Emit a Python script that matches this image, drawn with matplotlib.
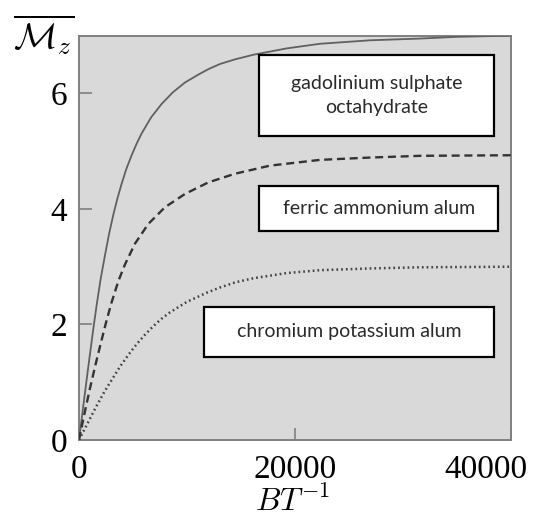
import matplotlib
matplotlib.use("Agg")
import matplotlib.pyplot as plt
import matplotlib.patches as patches
from matplotlib.transforms import ScaledTranslation

# magnetisation curves, values read per series (B/T, mean M_z)
gd_x = [0, 400, 830, 1345, 1640, 2000, 2409, 2800, 3180, 3560, 3956, 4400,
        4880, 5340, 5810, 6700, 7663, 8700, 9822, 11000, 11981, 13065,
        14455, 16152, 19246, 22330, 26964, 31590, 35000, 40000]
gd_y = [0, 0.59, 1.22, 1.95, 2.34, 2.78, 3.20, 3.58, 3.90, 4.18, 4.44, 4.70,
        4.93, 5.13, 5.31, 5.59, 5.82, 6.02, 6.19, 6.32, 6.42, 6.51,
        6.59, 6.67, 6.78, 6.86, 6.92, 6.95, 6.98, 7.0]

fe_x = [0, 500, 1000, 1500, 2000, 2500, 3000, 3645, 4262, 5189, 6421, 7968,
        9822, 11981, 14455, 17690, 22330, 26960, 31590, 40000]
fe_y = [0, 0.45, 0.88, 1.28, 1.66, 2.03, 2.37, 2.75, 3.04, 3.40, 3.74, 4.03,
        4.26, 4.46, 4.61, 4.75, 4.85, 4.89, 4.92, 4.93]

cr_x = [0, 800, 1600, 2400, 3200, 3800, 4600, 5346, 6100, 6885, 7650, 8432,
        9979, 11833, 13065, 14500, 16152, 19246, 22330, 26964, 31590, 40000]
cr_y = [0, 0.29, 0.58, 0.85, 1.09, 1.27, 1.48, 1.66, 1.82, 1.97, 2.10, 2.21,
        2.39, 2.55, 2.64, 2.73, 2.80, 2.89, 2.94, 2.97, 2.99, 3.0]

x_ticks = [0, 20000, 40000]
y_ticks = [0, 2, 4, 6]

plt.rcParams['mathtext.fontset'] = 'cm'

fig = plt.figure(figsize=(5.41, 5.21), dpi=100)
ax = fig.add_axes([0.146, 0.1555, 0.798, 0.776])
ax.set_facecolor('#d9d9d9')

ax.plot(gd_x, gd_y, color='#606060', lw=1.3, zorder=3)
ax.plot(fe_x, fe_y, color='#333333', lw=1.7, dashes=(3.4, 2.0), zorder=3)
ax.plot(cr_x, cr_y, color='#444444', lw=1.8, linestyle=(0, (0.7, 1.2)),
        dash_capstyle='butt', zorder=3)

ax.set_xlim(0, 40000)
ax.set_ylim(0, 7)

for s in ax.spines.values():
    s.set_color('#808080')
    s.set_linewidth(1.4)

ax.set_xticks(x_ticks)
ax.set_yticks(y_ticks)
ax.set_xticklabels([str(v) for v in x_ticks], fontfamily='Liberation Serif', fontsize=24)
ax.set_yticklabels([str(v) for v in y_ticks], fontfamily='Liberation Serif', fontsize=24)
ax.tick_params(direction='in', length=9, width=1.2, color='#808080')
ax.tick_params(axis='x', pad=10.5)
ax.tick_params(axis='y', pad=8.5)

# keep the last x label inside the figure
last = ax.get_xticklabels()[-1]
last.set_transform(last.get_transform() + ScaledTranslation(-0.25, 0, fig.dpi_scale_trans))

fig.text(293 / 541, 1 - 502 / 521, r'$BT^{-1}$', fontsize=23, ha='center', va='center')
fig.text(44 / 541, 1 - 35 / 521, r'$\overline{\mathcal{M}_z}$', fontsize=26,
         ha='center', va='center')

# labelled boxes (axes fractions)
boxes = [
    ((0.417, 0.752), 0.544, 0.200, 'gadolinium sulphate\noctahydrate'),
    ((0.417, 0.518), 0.554, 0.111, 'ferric ammonium alum'),
    ((0.290, 0.206), 0.671, 0.124, 'chromium potassium alum'),
]
for (bx, by), bw, bh, label in boxes:
    rect = patches.Rectangle((bx, by), bw, bh, transform=ax.transAxes,
                             facecolor='white', edgecolor='black', lw=1.6, zorder=4)
    ax.add_patch(rect)
    ax.text(bx + bw / 2, by + bh / 2, label, transform=ax.transAxes,
            ha='center', va='center', fontsize=14, fontfamily='Lato',
            color='#2a2a2a', linespacing=1.45, zorder=5)

fig.savefig('out.png', dpi=100)
